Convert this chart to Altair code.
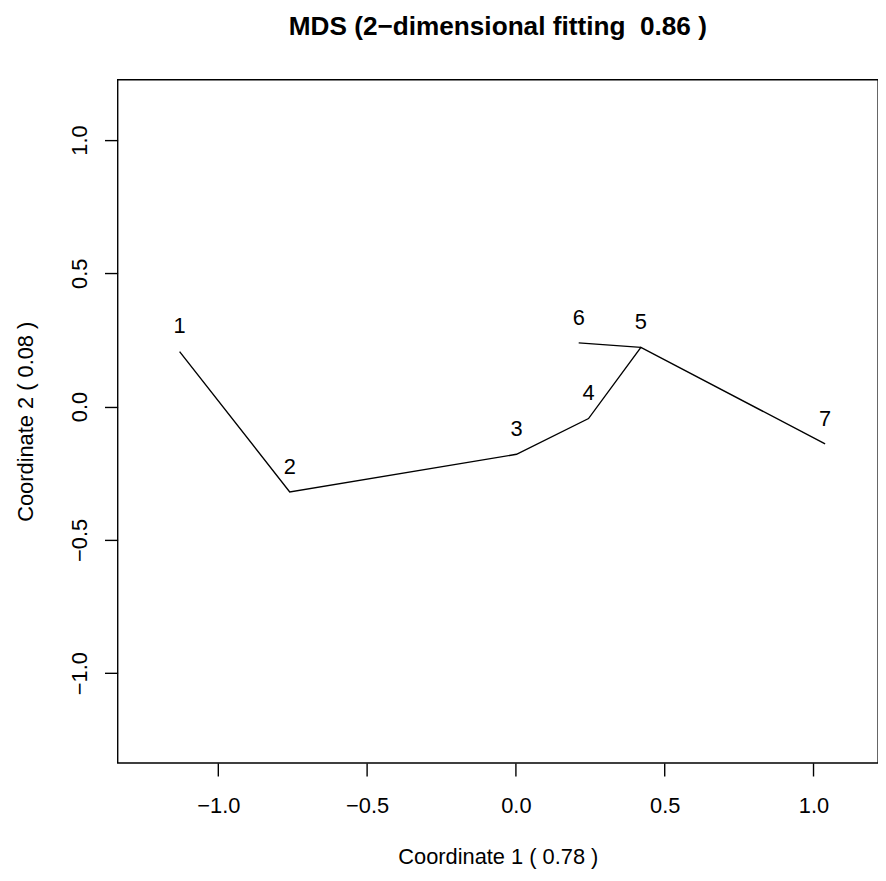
import altair as alt
import pandas as pd

# ---- data ----
labels = ["1", "2", "3", "4", "5", "6", "7"]
coord1 = [-1.130, -0.760, 0.002, 0.244, 0.420, 0.211, 1.039]
coord2 = [0.206, -0.320, -0.179, -0.045, 0.222, 0.239, -0.140]
path_a = ["1", "2", "3", "4", "5", "7"]
path_b = ["6", "5"]
x_ticks = [-1.0, -0.5, 0.0, 0.5, 1.0]
y_ticks = [-1.0, -0.5, 0.0, 0.5, 1.0]
x_domain = [-1.3383, 1.2167]
y_domain = [-1.3368, 1.2267]

title_text = "MDS (2\u2212dimensional fitting \u00a00.86 )"
x_title = "Coordinate 1 ( 0.78 )"
y_title = "Coordinate 2 ( 0.08 )"

pts = pd.DataFrame({"label": labels, "c1": coord1, "c2": coord2})
rows = []
for gi, path in enumerate([path_a, path_b]):
    for step, lab in enumerate(path):
        i = labels.index(lab)
        rows.append({"seg": gi, "step": step, "c1": coord1[i], "c2": coord2[i]})
lines_df = pd.DataFrame(rows)

W = 766.5
H = 688.8
FONT = "Liberation Sans"

x_enc = alt.X(
    "c1:Q",
    scale=alt.Scale(domain=x_domain, nice=False, zero=False),
    axis=alt.Axis(
        values=x_ticks, format=".1f", title=x_title,
        labelBaseline="alphabetic", labelPadding=36.6, labelAlign="center",
        titleX=W / 2, titleY=101.5, titleAlign="center", titleBaseline="alphabetic",
    ),
)
y_enc = alt.Y(
    "c2:Q",
    scale=alt.Scale(domain=y_domain, nice=False, zero=False),
    axis=alt.Axis(
        values=y_ticks, format=".1f", title=y_title,
        labelAngle=270, labelAlign="center", labelBaseline="alphabetic", labelPadding=18.5,
        titleAngle=270, titleX=-86, titleY=H / 2, titleAlign="center", titleBaseline="alphabetic",
    ),
)

lines = alt.Chart(lines_df).mark_line(color="black", strokeWidth=1.4).encode(
    x=x_enc, y=y_enc, detail="seg:N", order="step:Q"
)
texts = alt.Chart(pts).mark_text(
    font=FONT, fontSize=22, baseline="alphabetic", align="center", dy=-18.5, color="black"
).encode(x=x_enc, y=y_enc, text="label:N")

chart = (
    alt.layer(lines, texts)
    .properties(
        width=W, height=H,
        background="white",
        autosize=alt.AutoSizeParams(type="none"),
        padding={"left": 110.5, "top": 68.7, "right": 0, "bottom": 107.5},
        title=alt.TitleParams(
            text=title_text, anchor="middle", frame="group", fontSize=26.4,
            fontWeight="bold", font=FONT, baseline="alphabetic", offset=19, color="black",
        ),
    )
    .configure_view(stroke="black", strokeWidth=1.4)
    .configure_axis(
        grid=False, domain=False, tickColor="black", tickSize=13.2, tickWidth=1.4,
        labelFont=FONT, labelFontSize=22, labelColor="black", labelOverlap=False, labelFlush=False,
        titleFont=FONT, titleFontSize=22, titleFontWeight="normal", titleColor="black",
    )
)

chart.save("out.html", embed_options={"renderer": "svg", "actions": False})
